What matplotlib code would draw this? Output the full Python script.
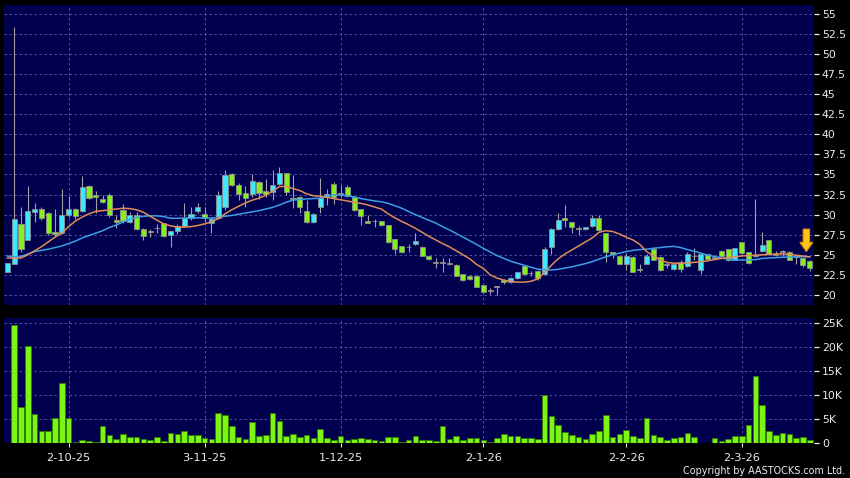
import numpy as np
import matplotlib
matplotlib.use('Agg')
import matplotlib.pyplot as plt
from matplotlib.patches import FancyArrow

# daily OHLC (index 0 = first trading day shown)
opens = [22.9, 23.8, 28.8, 26.9, 30.3, 30.7, 30.2, 27.9, 27.7, 29.9,
         30.7, 30.5, 33.6, 32.5, 32.0, 32.4, 29.3, 30.6, 29.1, 30.0,
         28.2, 27.95, 28.3, 28.9, 27.45, 27.95, 28.6, 29.6, 30.5, 30.05,
         29.0, 29.55, 31.0, 35.05, 33.65, 32.75, 32.55, 34.05, 33.0, 32.8,
         33.8, 35.15, 32.1, 32.25, 30.4, 29.1, 30.9, 32.2, 33.8, 32.6,
         33.5, 32.25, 30.65, 29.2, 29.15, 29.2, 28.7, 26.95, 26.1, 25.95,
         26.3, 26.0, 24.8, 24.0, 24.0, 23.9, 23.75, 22.6, 22.4, 22.4,
         21.25, 20.5, 21.0, 21.85, 21.6, 22.1, 23.55, 22.7, 23.0, 22.6,
         26.0, 28.2, 29.55, 29.05, 28.35, 28.2, 28.6, 29.55, 27.7, 25.3,
         24.85, 23.85, 24.75, 23.2, 23.85, 25.7, 24.75, 23.75, 23.2, 24.15,
         23.6, 24.8, 23.1, 25.05, 24.6, 25.5, 25.7, 24.35, 26.55, 25.3,
         24.9, 25.5, 26.85, 25.1, 25.4, 25.4, 24.8, 24.55, 24.25]
highs = [24.0, 53.3, 30.9, 33.6, 31.4, 31.0, 30.3, 30.7, 33.2, 32.3,
         30.8, 34.8, 33.7, 33.0, 32.45, 32.7, 30.0, 31.3, 30.3, 30.3,
         28.3, 28.2, 28.8, 29.0, 28.0, 28.8, 31.5, 30.9, 31.5, 31.0,
         29.75, 32.9, 35.5, 35.2, 33.9, 33.6, 35.05, 34.2, 34.4, 35.6,
         35.9, 35.2, 34.9, 32.3, 31.8, 30.2, 34.5, 33.2, 34.1, 33.7,
         33.7, 32.3, 30.7, 30.0, 29.45, 29.25, 28.75, 27.0, 26.15, 26.3,
         27.7, 26.05, 24.85, 24.55, 24.6, 24.55, 23.8, 22.65, 22.45, 22.45,
         21.3, 20.85, 21.1, 22.0, 22.2, 22.9, 23.6, 22.95, 23.05, 26.0,
         28.3, 30.2, 31.2, 29.1, 28.6, 28.5, 29.9, 30.0, 27.75, 25.4,
         24.9, 25.2, 24.8, 23.8, 25.1, 25.95, 24.8, 24.15, 23.85, 24.4,
         25.3, 25.8, 25.1, 25.1, 24.7, 25.65, 25.75, 25.85, 26.6, 25.35,
         32.0, 27.9, 26.9, 25.45, 25.6, 25.5, 24.9, 24.6, 24.3]
lows = [22.9, 23.8, 25.4, 26.9, 29.1, 29.3, 27.5, 27.4, 27.6, 29.7,
        29.4, 30.3, 32.0, 30.2, 31.5, 29.75, 28.3, 29.0, 29.0, 28.1,
        26.9, 27.2, 27.7, 27.2, 26.0, 27.6, 28.5, 29.3, 30.2, 29.1,
        27.75, 29.4, 30.6, 33.6, 31.8, 31.0, 32.2, 32.0, 32.2, 31.8,
        33.7, 32.5, 30.8, 30.2, 28.9, 29.0, 30.2, 31.2, 31.3, 32.2,
        32.2, 30.5, 28.7, 28.9, 28.45, 28.6, 26.5, 25.1, 25.2, 25.4,
        26.2, 24.8, 24.4, 23.3, 22.9, 23.7, 22.35, 21.8, 21.9, 21.0,
        20.35, 20.1, 20.0, 21.4, 21.5, 22.0, 22.5, 22.4, 21.9, 22.5,
        25.1, 28.1, 28.4, 27.7, 27.5, 28.1, 28.5, 28.0, 24.1, 24.6,
        23.7, 23.1, 22.85, 22.8, 23.8, 24.3, 23.0, 23.3, 23.1, 22.9,
        23.5, 24.3, 22.6, 24.4, 24.45, 24.8, 24.2, 24.3, 25.1, 23.9,
        24.7, 25.4, 25.0, 24.9, 24.9, 24.3, 23.8, 23.5, 23.0]
closes = [23.95, 29.45, 25.7, 30.4, 30.75, 29.55, 27.7, 27.6, 29.9, 30.7,
          29.8, 33.4, 32.1, 32.2, 31.55, 30.0, 29.1, 29.2, 29.9, 28.2,
          27.35, 27.9, 28.3, 27.35, 27.95, 28.6, 29.6, 30.05, 30.9, 29.55,
          29.45, 32.45, 34.9, 33.65, 32.55, 32.05, 34.25, 32.65, 32.6, 33.75,
          35.15, 32.8, 32.0, 31.0, 29.05, 30.1, 32.05, 32.6, 32.2, 32.6,
          32.3, 30.6, 29.85, 29.0, 29.15, 28.7, 26.55, 25.75, 25.3, 25.95,
          26.75, 24.85, 24.5, 24.0, 24.0, 23.9, 22.4, 21.85, 21.95, 21.05,
          20.4, 20.5, 21.0, 21.6, 22.1, 22.85, 22.6, 22.7, 22.1, 25.7,
          28.2, 29.35, 29.3, 28.45, 28.2, 28.45, 29.55, 28.1, 25.3, 25.15,
          23.85, 24.85, 22.9, 23.05, 24.85, 24.35, 23.1, 23.75, 23.8, 23.2,
          25.05, 24.8, 25.05, 24.45, 24.6, 24.85, 24.3, 25.8, 25.2, 24.0,
          24.9, 26.25, 25.1, 24.95, 25.4, 24.35, 24.7, 23.75, 23.3]

# moving averages as drawn on the chart
ma_short = [24.6, 24.6, 24.6, 25.0, 25.5, 26.0, 26.6, 27.2, 27.7, 28.5,
            29.2, 29.7, 30.1, 30.4, 30.5, 30.6, 30.7, 30.8, 30.75, 30.6,
            30.3, 29.8, 29.3, 28.85, 28.6, 28.45, 28.45, 28.5, 28.65, 28.85,
            29.1, 29.5, 30.1, 30.6, 31.05, 31.45, 31.8, 32.05, 32.4, 32.9,
            33.5, 33.5, 33.25, 33.0, 32.6, 32.35, 32.3, 32.15, 32.0, 31.85,
            31.7, 31.55, 31.4, 31.2, 30.95, 30.7, 30.1, 29.6, 29.15, 28.75,
            28.3, 27.8, 27.3, 26.85, 26.4, 26.0, 25.5, 25.0, 24.5, 23.8,
            23.3, 22.5, 22.1, 21.85, 21.7, 21.6, 21.6, 21.7, 22.0, 22.8,
            23.7, 24.5, 25.1, 25.6, 26.1, 26.6, 27.1, 27.8, 28.0, 27.9,
            27.6, 27.2, 26.85, 26.3, 25.4, 24.9, 24.35, 24.05, 23.95, 23.95,
            24.0, 24.05, 24.15, 24.25, 24.4, 24.55, 24.65, 24.75, 24.85, 24.9,
            24.95, 25.0, 25.05, 25.1, 25.1, 25.05, 24.95, 24.85, 24.75]
ma_long = [24.85, 24.75, 24.8, 25.1, 25.4, 25.55, 25.7, 25.9, 26.1, 26.4,
           26.7, 27.1, 27.4, 27.7, 28.0, 28.4, 28.7, 29.1, 29.4, 29.65,
           29.8, 29.85, 29.85, 29.75, 29.55, 29.55, 29.58, 29.6, 29.6, 29.6,
           29.55, 29.65, 29.8, 29.9, 30.05, 30.2, 30.35, 30.5, 30.7, 30.9,
           31.2, 31.55, 31.8, 31.9, 31.95, 32.0, 32.05, 32.3, 32.45, 32.45,
           32.35, 32.2, 32.0, 31.85, 31.7, 31.6, 31.4, 31.1, 30.8, 30.4,
           30.0, 29.65, 29.3, 28.95, 28.5, 28.1, 27.65, 27.2, 26.75, 26.3,
           25.8, 25.35, 24.9, 24.55, 24.2, 23.95, 23.7, 23.45, 23.2, 23.15,
           23.1, 23.2, 23.35, 23.5, 23.7, 23.9, 24.15, 24.45, 24.75, 25.0,
           25.2, 25.4, 25.55, 25.65, 25.7, 25.8, 25.9, 26.0, 26.05, 25.9,
           25.65, 25.45, 25.2, 24.95, 24.8, 24.6, 24.45, 24.35, 24.35, 24.35,
           24.4, 24.55, 24.6, 24.65, 24.7, 24.72, 24.75, 24.75, 24.75]

# volume in thousands of shares
volume_k = [0, 24.6, 7.6, 20.3, 6.1, 2.6, 2.6, 5.2, 12.6, 5.2,
            0.2, 0.6, 0.4, 0.2, 3.5, 1.6, 0.9, 1.8, 1.3, 1.3,
            0.9, 0.6, 1.25, 0.35, 2.1, 1.9, 2.6, 1.7, 1.7, 1.0,
            0.8, 6.25, 5.9, 3.5, 1.3, 0.9, 4.3, 1.5, 1.7, 6.2,
            4.6, 1.5, 1.9, 1.2, 1.6, 1.0, 3.0, 1.1, 0.7, 1.5,
            0.7, 0.9, 1.1, 0.8, 0.7, 0.4, 1.25, 1.2, 0.3, 0.55,
            1.5, 0.7, 0.55, 0.35, 3.5, 0.9, 1.5, 0.6, 1.0, 1.0,
            0.6, 0.15, 1.0, 1.8, 1.4, 1.4, 1.0, 1.0, 0.8, 10.1,
            5.6, 3.8, 2.3, 1.6, 1.3, 0.9, 1.9, 2.4, 5.8, 1.2,
            1.8, 2.7, 1.5, 1.1, 5.3, 1.7, 1.25, 0.6, 1.1, 1.2,
            2.1, 1.3, 0, 0, 1.1, 0.5, 0.8, 1.5, 1.4, 3.7,
            14.0, 8.0, 2.4, 1.7, 2.1, 1.8, 1.0, 1.3, 0.6]

date_pos = [9, 29, 49, 70, 91, 108]
date_labels = ['2-10-25', '3-11-25', '1-12-25', '2-1-26', '2-2-26', '2-3-26']
price_ticks = np.arange(20, 55.1, 2.5)
vol_ticks = [0, 5000, 10000, 15000, 20000, 25000]
vol_tick_labels = ['0', '5K', '10K', '15K', '20K', '25K']

o = np.array(opens)
h = np.array(highs)
l = np.array(lows)
c = np.array(closes)
v = np.array(volume_k) * 1000
x = np.arange(len(o))

navy = '#00004e'
grid_col = '#5c5ca8'
up_col = '#3ee8ff'
dn_col = '#86f01c'
flat_col = '#b4b4b4'
txt_col = '#ececec'

plt.rcParams['font.family'] = 'DejaVu Sans'
fig = plt.figure(figsize=(8.5, 4.78), dpi=100, facecolor='black')
ax = fig.add_axes([4 / 850, 1 - 305 / 478, 809.5 / 850, 300 / 478], facecolor=navy)
axv = fig.add_axes([4 / 850, 1 - 443 / 478, 809.5 / 850, 125 / 478], facecolor=navy, sharex=ax)

for a in (ax, axv):
    for sp in a.spines.values():
        sp.set_visible(False)
    a.set_axisbelow(True)
    a.grid(True, color=grid_col, linestyle=(0, (3, 3)), linewidth=0.6)
    a.yaxis.tick_right()
    a.tick_params(axis='y', colors=txt_col, labelsize=7.8, length=3.5, width=0.9, pad=2.5)

# candles
diff = c - o
body_col = np.where(diff > 0, up_col, np.where(diff < 0, dn_col, flat_col))
body_bot = np.minimum(o, c)
body_h = np.maximum(np.abs(diff), 0.08)
ax.vlines(x, l, h, color='#a2a2a2', linewidth=0.8, zorder=2)
ax.bar(x, body_h, bottom=body_bot, width=0.74, color=body_col,
       edgecolor='#8e8e8e', linewidth=0.6, zorder=3)

ax.plot(x, ma_long, color='#3a9fe6', linewidth=1.1, zorder=4)
ax.plot(x, ma_short, color='#e08c58', linewidth=1.1, zorder=4)

# marker arrow over the latest bars
arr = FancyArrow(117.5, 28.2, 0, -2.8, width=0.95, head_width=1.9, head_length=1.15,
                 length_includes_head=True, facecolor='#ffc61a', edgecolor='#e88a00',
                 linewidth=0.8, zorder=6)
ax.add_patch(arr)

ax.set_ylim(18.75, 56.1)
ax.set_yticks(price_ticks)
ax.set_yticklabels(['{:g}'.format(t) for t in price_ticks])
ax.set_xlim(-0.5, 118.55)
ax.set_xticks(date_pos)
ax.tick_params(axis='x', length=0, labelbottom=False)

# volume
axv.bar(x, v, width=0.84, color='#7cf514', edgecolor='#2e7d00', linewidth=0.6, zorder=3)
axv.set_ylim(0, 26040)
axv.set_yticks(vol_ticks)
axv.set_yticklabels(vol_tick_labels)
axv.set_xticks(date_pos)
axv.set_xticklabels(date_labels)
axv.tick_params(axis='x', colors=txt_col, labelsize=8.2, length=3, width=0.8, pad=4)

fig.text(845.5 / 850, 1 - 471.5 / 478, 'Copyright by AASTOCKS.com Ltd.', ha='right', va='center',
         color=txt_col, fontsize=6.9)

fig.savefig('out.png', dpi=100, facecolor='black')
